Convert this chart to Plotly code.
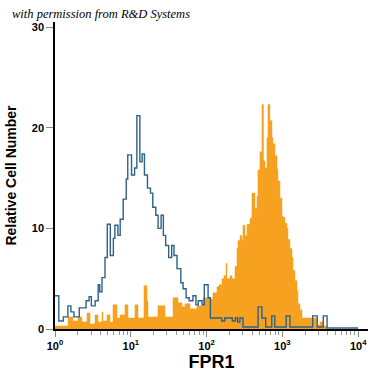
import numpy as np
import plotly.graph_objects as go

# ---- data (log10 of FPR1 intensity at bin start, relative cell number) ----
blue_start = [0.00, 0.05, 0.11, 0.17, 0.21, 0.25, 0.32, 0.41, 0.45, 0.48,
              0.53, 0.57, 0.59, 0.62, 0.66, 0.69, 0.73, 0.77, 0.79, 0.83,
              0.86, 0.90, 0.94, 0.96, 1.01, 1.05, 1.08, 1.12, 1.15, 1.18,
              1.22, 1.26, 1.29, 1.33, 1.36, 1.40, 1.43, 1.46, 1.50, 1.54,
              1.57, 1.61, 1.66, 1.69, 1.73, 1.77, 1.82, 1.86, 1.89, 1.94,
              1.97, 2.02, 2.05, 2.20, 2.24, 2.34, 2.38, 2.41, 2.44, 2.48,
              2.68, 2.73, 2.78, 2.86, 2.90, 3.05, 3.10, 3.40, 3.46, 3.54,
              3.59, 4.00]
blue_count = [3.3, 0.8, 1.2, 2.3, 1.7, 1.2, 2.1, 2.8, 3.2, 2.3,
              2.8, 4.4, 3.7, 5.1, 7.1, 10.4, 7.3, 9.0, 10.3, 9.3,
              10.9, 12.9, 14.9, 17.3, 15.3, 16.0, 21.2, 16.6, 17.4, 15.3,
              14.0, 13.5, 12.1, 11.3, 10.0, 11.3, 9.3, 8.3, 7.1, 8.3,
              7.3, 6.0, 4.6, 4.0, 3.1, 2.8, 3.3, 2.4, 2.8, 2.4,
              4.4, 3.1, 1.1, 0.8, 1.1, 0.8, 1.1, 0.7, 1.1, 0.2,
              2.2, 1.1, 0.2, 1.3, 0.2, 1.3, 0.2, 1.3, 0.2, 1.3,
              0.1, 0.1]

orange_start = [0.000, 0.172, 0.237, 0.303, 0.356, 0.422, 0.462, 0.528, 0.567, 0.620,
                0.633, 0.686, 0.726, 0.765, 0.818, 0.858, 0.923, 0.963, 1.055, 1.095,
                1.174, 1.214, 1.227, 1.359, 1.451, 1.557, 1.623, 1.675, 1.715, 1.781,
                1.873, 1.953, 2.045, 2.084, 2.137, 2.164, 2.203, 2.230, 2.256, 2.269,
                2.309, 2.335, 2.375, 2.401, 2.414, 2.441, 2.467, 2.480, 2.507, 2.533,
                2.573, 2.599, 2.639, 2.665, 2.678, 2.704, 2.731, 2.751, 2.771, 2.797,
                2.810, 2.836, 2.863, 2.876, 2.902, 2.929, 2.942, 2.968, 2.995, 3.008,
                3.034, 3.061, 3.074, 3.100, 3.127, 3.140, 3.166, 3.193, 3.206, 3.232,
                3.259, 3.456, 3.496, 3.536, 3.588]
orange_count = [0.3, 1.2, 0.8, 1.2, 0.7, 1.6, 0.5, 1.4, 0.7, 1.7,
                0.8, 1.4, 0.7, 2.4, 1.1, 1.4, 2.4, 1.1, 2.4, 1.1,
                4.3, 2.8, 1.2, 2.3, 1.2, 3.1, 2.6, 2.2, 2.5, 2.0,
                2.3, 3.1, 3.0, 3.6, 4.2, 4.4, 5.0, 5.3, 6.5, 5.0,
                5.3, 5.0, 6.2, 8.0, 8.8, 9.3, 8.8, 10.3, 9.3, 10.4,
                11.0, 13.5, 12.0, 13.2, 15.8, 17.6, 22.3, 16.7, 16.0, 19.0,
                22.3, 20.7, 19.0, 18.4, 17.2, 15.9, 14.7, 13.0, 11.2, 11.1,
                10.5, 10.0, 8.9, 8.0, 7.1, 5.8, 4.8, 3.8, 2.5, 1.9,
                1.1, 0.4, 0.7, 0.3, 0.0]

x_tickvals = [1, 10, 100, 1000, 10000]
x_ticktext = ["<b>10<sup>0</sup></b>", "<b>10<sup>1</sup></b>", "<b>10<sup>2</sup></b>",
              "<b>10<sup>3</sup></b>", "<b>10<sup>4</sup></b>"]
y_tickvals = [0, 10, 20, 30]
y_ticktext = ["<b>0</b>", "<b>10</b>", "<b>20</b>", "<b>30</b>"]

minor_vals = [m * 10 ** d for d in range(4) for m in range(2, 10)]

fig = go.Figure()
fig.add_trace(go.Scatter(
    x=[10 ** v for v in orange_start], y=orange_count,
    mode="lines", line=dict(shape="hv", width=0.5, color="#f6a11f"),
    fill="tozeroy", fillcolor="#f6a11f", hoverinfo="skip", showlegend=False))
fig.add_trace(go.Scatter(
    x=[10 ** v for v in blue_start], y=blue_count,
    mode="lines", line=dict(shape="hv", width=1.4, color="#2e6288"),
    hoverinfo="skip", showlegend=False))

fig.update_layout(
    width=375, height=375,
    margin=dict(l=55, r=7, t=22, b=46),
    paper_bgcolor="white", plot_bgcolor="white",
    font=dict(family="Liberation Sans, Arial, sans-serif", color="black"),
    xaxis=dict(type="log", range=[0, 4.13], showgrid=False, zeroline=False,
               automargin=False,
               showline=True, linecolor="black", linewidth=1.5,
               tickmode="array", tickvals=x_tickvals, ticktext=x_ticktext,
               ticks="outside", ticklen=6, tickcolor="#888888", tickwidth=1,
               tickfont=dict(size=11),
               minor=dict(tickmode="array", tickvals=minor_vals, ticks="outside",
                          ticklen=4, tickcolor="#999999", tickwidth=1, showgrid=False),
               title=dict(text="<b>FPR1</b>", font=dict(size=18), standoff=2)),
    yaxis=dict(range=[0, 30.5], showgrid=False, zeroline=False,
               automargin=False,
               showline=True, linecolor="black", linewidth=1.5,
               tickmode="array", tickvals=y_tickvals, ticktext=y_ticktext,
               ticks="outside", ticklen=7, tickcolor="#888888", tickwidth=1,
               tickfont=dict(size=11),
               title=dict(text="<b>Relative Cell Number</b>", font=dict(size=14), standoff=12)),
    annotations=[dict(text="<i>with permission from R&amp;D Systems</i>",
                      xref="paper", yref="paper", x=-0.145, y=1.025,
                      xanchor="left", yanchor="middle", showarrow=False,
                      font=dict(family="Liberation Serif, serif", size=12.5, color="black"))],
)

fig.write_html("out.html", config={"displayModeBar": False},
               post_script="document.body.style.margin='0';document.body.style.overflow='hidden';")
